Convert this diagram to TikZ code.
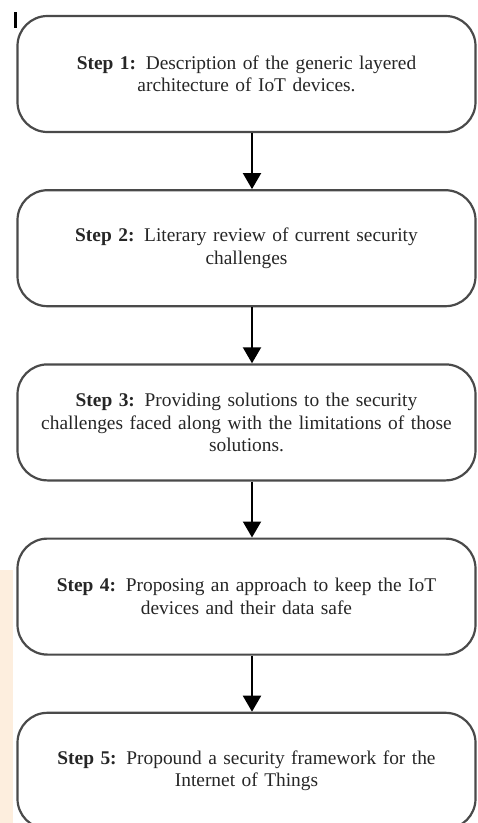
\documentclass[tikz,border=0pt]{standalone}
\usepackage{fontspec}
\setmainfont{Liberation Serif}
\usetikzlibrary{positioning}
\usetikzlibrary{arrows.meta}

\definecolor{stepline}{HTML}{4A4A4A}
\definecolor{peach}{HTML}{FDEEDE}

\begin{document}
\begin{tikzpicture}[x=1pt, y=-1pt,
    stepbox/.style={draw=stepline, line width=2.2pt, rounded corners=30pt,
        minimum width=458pt, minimum height=116pt, text width=450pt,
        align=center, text=black!85, inner sep=0pt,
        font=\fontsize{19.4}{22.5}\selectfont},
    flowarrow/.style={line width=2pt, -{Triangle[width=18pt,length=16pt]}},
    node distance=56pt]
  \useasboundingbox (0,0) rectangle (478,823);

  % faint strip along the left edge and the small mark at the top
  \fill[peach] (0,570) rectangle (13,823);
  \fill[black] (14,12) rectangle (16.5,28);

  % the five steps
  \node[stepbox] (s1) at (246.5,74) {\textbf{Step 1:} Description of the generic layered\\ architecture of IoT devices.};
  \node[stepbox, below=of s1] (s2) {\textbf{Step 2:} Literary review of current security\\ challenges};
  \node[stepbox, below=of s2] (s3) {\textbf{Step 3:} Providing solutions to the security\\ challenges faced along with the limitations of those\\ solutions.};
  \node[stepbox, below=of s3] (s4) {\textbf{Step 4:} Proposing an approach to keep the IoT\\ devices and their data safe};
  \node[stepbox, below=of s4] (s5) {\textbf{Step 5:} Propound a security framework for the\\ Internet of Things};

  % arrows between the steps
  \foreach \a/\b in {s1/s2, s2/s3, s3/s4, s4/s5} {
    \draw[flowarrow] ([xshift=5.5pt]\a.south) -- ([xshift=5.5pt]\b.north);
  }
\end{tikzpicture}
\end{document}
